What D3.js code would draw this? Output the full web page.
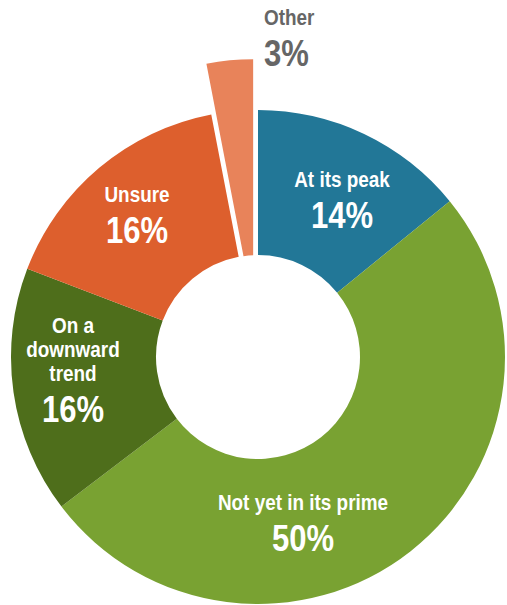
<!DOCTYPE html>
<html><head><meta charset="utf-8">
<script src="https://cdn.jsdelivr.net/npm/d3@7"></script>
<style>
body{margin:0;background:#fff;}
text{font-family:"Liberation Sans",Arial,sans-serif;font-weight:bold;}
</style></head><body>
<svg id="c" width="507" height="605"></svg>
<script>
const categories = ["At its peak","Not yet in its prime","On a downward trend","Unsure","Other"];
const values = [14, 50, 16, 16, 3];
const labelLines = [["At its peak"],["Not yet in its prime"],["On a","downward","trend"],["Unsure"],["Other"]];
const colors = ["#227797","#79a232","#4e6e1b","#dd5f2d","#e8835a"];

const cx = 258, cy = 357, R = 247, r = 102, explode = 51;
const svg = d3.select("#c");
const g = svg.append("g").attr("transform", `translate(${cx},${cy})`);
const pie = d3.pie().sort(null).value(d => d)(values);

// label layout (position of each block, relative to centre)
const labelPos = [
  {x: 84, y: -170, anchor: "middle", color: "#fff"},
  {x: 45, y: 153, anchor: "middle", color: "#fff"},
  {x: -185, y: -24, anchor: "middle", color: "#fff"},
  {x: -121, y: -155, anchor: "middle", color: "#fff"},
  {x: 6, y: -332, anchor: "start", color: "#666"}
];

pie.forEach((p, i) => {
  const isOther = i === values.length - 1;
  const arc = d3.arc().innerRadius(isOther ? r - explode : r).outerRadius(R);
  const mid = (p.startAngle + p.endAngle) / 2;
  const off = isOther ? explode : 0;
  g.append("path")
    .attr("d", arc(p))
    .attr("fill", colors[i])
    .attr("transform", `translate(${off * Math.sin(mid)},${-off * Math.cos(mid)})`);
});

function cText(x, y, size, sx, anchor, color, str) {
  g.append("text")
    .attr("transform", `translate(${x},${y}) scale(${sx},1)`)
    .attr("text-anchor", anchor).attr("fill", color)
    .attr("font-size", size).text(str);
}

pie.forEach((p, i) => {
  const lp = labelPos[i];
  const lines = labelLines[i];
  lines.forEach((ln, k) => cText(lp.x, lp.y + k * 24, 22, 0.86, lp.anchor, lp.color, ln));
  cText(lp.x, lp.y + (lines.length - 1) * 24 + 41, 37, 0.84, lp.anchor, lp.color, values[i] + "%");
});
</script></body></html>
